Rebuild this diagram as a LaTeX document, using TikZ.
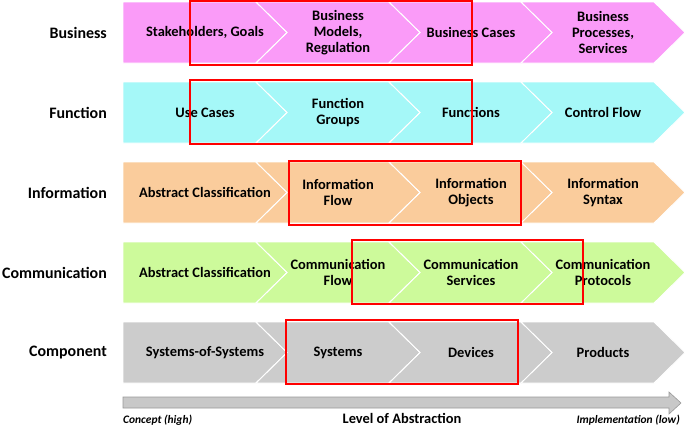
\documentclass[tikz,border=0pt]{standalone}
\usepackage{fontspec}
\setmainfont{Carlito}
\usepackage{tikz}
\usetikzlibrary{positioning}
\definecolor{busfill}{RGB}{250,155,248}
\definecolor{funfill}{RGB}{165,248,248}
\definecolor{inffill}{RGB}{250,204,156}
\definecolor{comfill}{RGB}{205,250,155}
\definecolor{cmpfill}{RGB}{204,204,204}
\definecolor{axisgray}{RGB}{200,200,200}

\begin{document}
\begin{tikzpicture}[
  x=1bp, y=-1bp,
  every node/.style={font=\bfseries\fontsize{14.5}{16}\selectfont, align=center, inner sep=0pt},
  chev/.style={draw=white, line width=0.8pt},
  rowlabel/.style={anchor=east, font=\bfseries\fontsize{16}{18}\selectfont},
  sel/.style={draw=red, line width=1.5pt},
  axis/.style={font=\bfseries\itshape\fontsize{11.5}{13}\selectfont}
]
  \useasboundingbox (0,0) rectangle (685,427);

  % chevron bands, one row per layer
  \foreach \yc/\col in {32.5/busfill, 112.5/funfill, 192.5/inffill, 272.5/comfill, 352.5/cmpfill} {
    \fill[\col, chev] (123,\yc-30.5) -- (256,\yc-30.5) -- (287,\yc) -- (256,\yc+30.5) -- (123,\yc+30.5) -- cycle;
    \foreach \x in {256,389,521}
      \fill[\col, chev] (\x,\yc-30.5) -- (\x+133,\yc-30.5) -- (\x+164,\yc) -- (\x+133,\yc+30.5)
        -- (\x,\yc+30.5) -- (\x+31,\yc) -- cycle;
  }
  \foreach \yc/\col in {32.5/busfill, 112.5/funfill, 192.5/inffill, 272.5/comfill, 352.5/cmpfill} {
    \foreach \x in {256,389,521}
      \draw[chev] (\x,\yc-30.5) -- (\x+31,\yc) -- (\x,\yc+30.5);
  }

  % row labels
  \node[rowlabel] (lbus) at (107,32.5) {Business};
  \node[rowlabel] (lfun) at (107,112.5) {Function};
  \node[rowlabel] (linf) at (107,192.5) {Information};
  \node[rowlabel] (lcom) at (107,272.5) {Communication};
  \node[rowlabel] (lcmp) at (107,352.5) {Component};

  % business
  \node (bus1) at (205,32.5) {Stakeholders, Goals};
  \node (bus2) at (338,32.5) {Business\\Models,\\Regulation};
  \node (bus3) at (471,32.5) {Business Cases};
  \node (bus4) at (603,32.5) {Business\\Processes,\\Services};

  % function
  \node (fun1) at (205,112.5) {Use Cases};
  \node (fun2) at (338,112.5) {Function\\Groups};
  \node (fun3) at (471,112.5) {Functions};
  \node (fun4) at (603,112.5) {Control Flow};

  % information
  \node (inf1) at (205,192.5) {Abstract Classification};
  \node (inf2) at (338,192.5) {Information\\Flow};
  \node (inf3) at (471,192.5) {Information\\Objects};
  \node (inf4) at (603,192.5) {Information\\Syntax};

  % communication
  \node (com1) at (205,272.5) {Abstract Classification};
  \node (com2) at (338,272.5) {Communication\\Flow};
  \node (com3) at (471,272.5) {Communication\\Services};
  \node (com4) at (603,272.5) {Communication\\Protocols};

  % component
  \node (cmp1) at (205,352.5) {Systems-of-Systems};
  \node (cmp2) at (338,352.5) {Systems};
  \node (cmp3) at (471,352.5) {Devices};
  \node (cmp4) at (603,352.5) {Products};

  % focus frames
  \draw[sel] (190,1) rectangle (472,65);
  \draw[sel] (190,80) rectangle (472,144);
  \draw[sel] (289,161) rectangle (521,225);
  \draw[sel] (352,240) rectangle (583,304);
  \draw[sel] (286,320) rectangle (518,384);

  % abstraction axis
  \draw[fill=axisgray, draw=gray!80, line width=0.6pt]
    (123,397) -- (669,397) -- (669,392) -- (681,403) -- (669,414) -- (669,408) -- (123,408) -- cycle;
  \node[axis, anchor=west] (lo) at (123,420) {Concept (high)};
  \node (lvl) at (402,418.5) {Level of Abstraction};
  \node[axis, anchor=east] (hi) at (680,420) {Implementation (low)};
\end{tikzpicture}
\end{document}
